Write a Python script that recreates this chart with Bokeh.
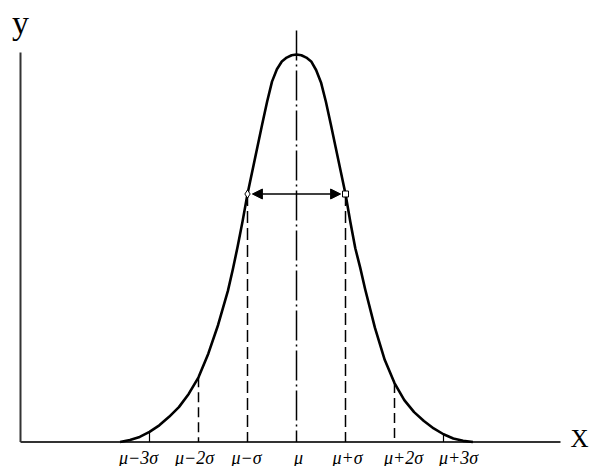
from bokeh.plotting import figure
from bokeh.models import Range1d, Arrow, NormalHead, ColumnDataSource
from bokeh.core.properties import value
from bokeh.embed import file_html
from bokeh.resources import INLINE

# Bell curve, x in units of sigma from the mean, y as a fraction of the peak height
curve_x = [-3.6, -3.4, -3.2, -3.0, -2.8, -2.6, -2.4, -2.2, -2.0, -1.8, -1.6, -1.4,
           -1.3, -1.2, -1.1, -1.0, -0.9, -0.8, -0.7, -0.6, -0.5, -0.4, -0.3, -0.2, -0.1,
           0.0,
           0.1, 0.2, 0.3, 0.4, 0.5, 0.6, 0.7, 0.8, 0.9, 1.0, 1.1, 1.2, 1.3,
           1.4, 1.6, 1.8, 2.0, 2.2, 2.4, 2.6, 2.8, 3.0, 3.2, 3.4, 3.6]
curve_y = [0.0, 0.005, 0.013, 0.026, 0.043, 0.065, 0.09, 0.124, 0.167, 0.228, 0.302, 0.39,
           0.445, 0.505, 0.57, 0.64, 0.70, 0.76, 0.82, 0.878, 0.93, 0.962, 0.982, 0.992, 0.998,
           1.0,
           0.998, 0.992, 0.982, 0.96, 0.928, 0.878, 0.82, 0.76, 0.70, 0.64, 0.567, 0.50, 0.45,
           0.395, 0.295, 0.212, 0.152, 0.108, 0.077, 0.054, 0.035, 0.02, 0.009, 0.003, 0.0]

# Tick positions along the x axis and their labels
tick_pos = [-3, -2, -1, 0, 1, 2, 3]
tick_labels = ["μ−3σ", "μ−2σ", "μ−σ", "μ", "μ+σ", "μ+2σ", "μ+3σ"]
tick_nudge = [-11, -4, -1, 2, 2, 9, 15]

# Curve heights at the guide lines
guide_pos = [-3, -2, -1, 1, 2, 3]
guide_top = [0.026, 0.167, 0.64, 0.64, 0.152, 0.02]

PX = 49.0       # pixels per sigma
MU_PX = 296.0   # screen x of the mean
BASE = 441.5    # screen y of the x axis
PEAK = 387.5    # pixel height of the peak

W, H = 590, 466
p = figure(width=W, height=H, output_backend="svg", toolbar_location=None,
           x_range=Range1d(-MU_PX / PX, (W - MU_PX) / PX),
           y_range=Range1d((BASE - H) / PEAK, BASE / PEAK),
           min_border=0, outline_line_color=None, background_fill_color="white")
p.axis.visible = False
p.grid.visible = False

def sx(px):
    return (px - MU_PX) / PX

def sy(py):
    return (BASE - py) / PEAK

# coordinate axes
p.line([sx(20), sx(560)], [0, 0], line_color="#333333", line_width=2)
p.line([sx(20), sx(20)], [0, sy(52)], line_color="#333333", line_width=2)

# mean line (dash-dot), starting solid above the peak
p.line([0, 0], [sy(30), 0], line_color="black", line_width=1.5, line_dash="30 4 2 4")

# guide lines from the curve down to the axis
for gx, gt in zip(guide_pos, guide_top):
    if abs(gx) == 3:
        p.line([gx, gx], [gt, 0], line_color="black", line_width=1.2)
    elif abs(gx) == 2:
        p.line([gx, gx], [gt, 0], line_color="black", line_width=1.5, line_dash="10 5")
    else:
        p.line([gx, gx], [gt, 0], line_color="black", line_width=1.5, line_dash="12 5")

# the bell curve
p.line(curve_x, curve_y, line_color="black", line_width=2.6, line_join="round")

# double arrow between the inflection points
p.add_layout(Arrow(x_start=-0.9, y_start=0.64, x_end=0.9, y_end=0.64,
                   line_color="black", line_width=1.5,
                   start=NormalHead(size=10, fill_color="black", line_color="black"),
                   end=NormalHead(size=10, fill_color="black", line_color="black")))

# inflection point markers
p.scatter([-1], [0.64], marker="diamond", size=8, fill_color="white", line_color="black", line_width=1)
p.scatter([1], [0.64], marker="square", size=6, fill_color="white", line_color="black", line_width=1)

# tick labels
src = ColumnDataSource(dict(x=tick_pos, y=[sy(457)] * len(tick_pos), t=tick_labels, dx=tick_nudge))
p.text(x="x", y="y", text="t", x_offset="dx", source=src, text_align="center",
       text_baseline="middle", text_font=value("Liberation Serif"), text_font_style="italic",
       text_font_size="18px", text_color="black")

# axis titles
p.text(x=[sx(20)], y=[sy(22)], text=["y"], text_align="center", text_baseline="alphabetic",
       text_font=value("Liberation Serif"), text_font_size="34px", text_color="black")
p.text(x=[sx(579)], y=[sy(438)], text=["X"], text_align="center", text_baseline="alphabetic",
       text_font=value("Liberation Serif"), text_font_size="25px", text_color="black")

open("out.html", "w").write(file_html(p, INLINE))
